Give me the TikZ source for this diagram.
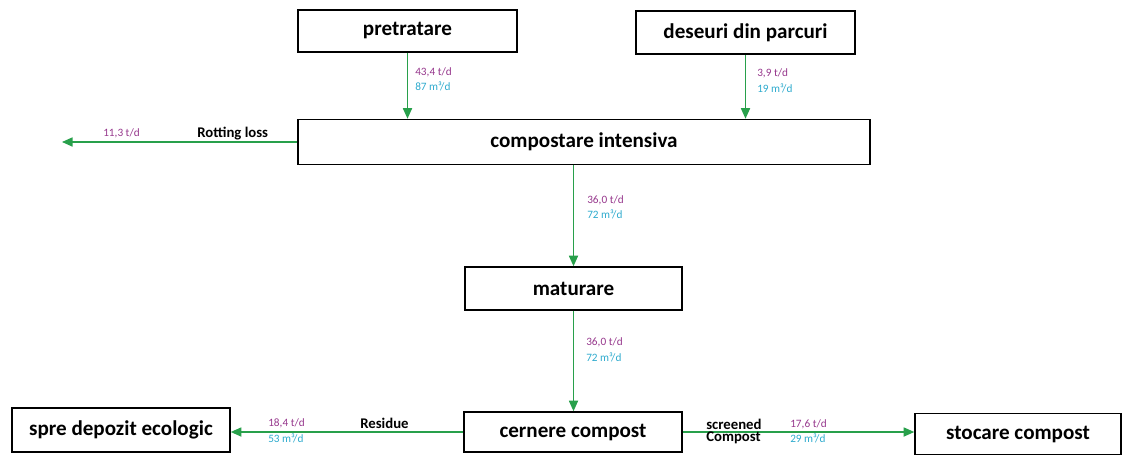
\documentclass[tikz,border=0pt]{standalone}
\usepackage{fontspec}
\setmainfont{Carlito}
\usetikzlibrary{arrows.meta}
\definecolor{flowgreen}{RGB}{40,160,75}
\definecolor{masscol}{RGB}{150,55,140}
\definecolor{volcol}{RGB}{45,170,205}
\tikzset{
  stage/.style={draw,line width=1.1pt,font=\bfseries\fontsize{15}{17}\selectfont,inner sep=0pt},
  flow/.style={draw=flowgreen,line width=0.9pt,-{Triangle[length=7.5pt,width=6.5pt]}},
  mass/.style={text=masscol,font=\fontsize{8}{9}\selectfont,inner sep=0pt,anchor=west},
  vol/.style={text=volcol,font=\fontsize{8}{9}\selectfont,inner sep=0pt,anchor=west},
  tag/.style={font=\bfseries\fontsize{10.5}{11}\selectfont,inner sep=0pt,anchor=west}
}
\begin{document}
\begin{tikzpicture}[x=0.025cm,y=-0.025cm]
  \useasboundingbox (0,0) rectangle (1123,454);
  % etapele procesului
  \node[stage,minimum width=5.475cm,minimum height=1.05cm] (pre) at (407.5,31) {pretratare};
  \node[stage,minimum width=5.475cm,minimum height=1.075cm] (park) at (745.5,32.5) {deseuri din parcuri};
  \node[stage,minimum width=14.3cm,minimum height=1.125cm] (comp) at (584,142) {compostare intensiva};
  \node[stage,minimum width=5.425cm,minimum height=1.075cm] (mat) at (573.5,288.5) {maturare};
  \node[stage,minimum width=5.45cm,minimum height=1.0cm] (cern) at (573,432) {cernere compost};
  \node[stage,minimum width=5.45cm,minimum height=1.1cm] (dep) at (121,430) {spre depozit ecologic};
  \node[stage,minimum width=5.15cm,minimum height=1.025cm] (sto) at (1018,434) {stocare compost};
  \coordinate (loss) at (62,142);
  % fluxurile
  \draw[flow] (pre.south) -- (pre.south |- comp.north);
  \draw[flow] (park.south) -- (park.south |- comp.north);
  \draw[flow] (comp.west) -- (loss);
  \draw[flow] (mat.north |- comp.south) -- (mat.north);
  \draw[flow] (mat.south) -- (mat.south |- cern.north);
  \draw[flow] (cern.west) -- (cern.west -| dep.east);
  \draw[flow] (cern.east) -- (cern.east -| sto.west);
  % cantitati
  \node[mass] (m1) at (415,72) {43,4 t/d};
  \node[vol] (v1) at (415,86) {87 m³/d};
  \node[mass] (m2) at (757,73) {3,9 t/d};
  \node[vol] (v2) at (757,88) {19 m³/d};
  \node[mass] (m3) at (103,133) {11,3 t/d};
  \node[tag] (t3) at (197,134) {Rotting loss};
  \node[mass] (m4) at (587,200) {36,0 t/d};
  \node[vol] (v4) at (587,214) {72 m³/d};
  \node[mass] (m5) at (586,342) {36,0 t/d};
  \node[vol] (v5) at (586,357) {72 m³/d};
  \node[mass] (m6) at (268,423) {18,4 t/d};
  \node[vol] (v6) at (268,438) {53 m³/d};
  \node[tag] (t6) at (360,423) {Residue};
  \node[tag] (t7a) at (706,424) {screened};
  \node[tag] (t7b) at (706,438) {Compost};
  \node[mass] (m7) at (790,424) {17,6 t/d};
  \node[vol] (v7) at (790,438) {29 m³/d};
\end{tikzpicture}
\end{document}
